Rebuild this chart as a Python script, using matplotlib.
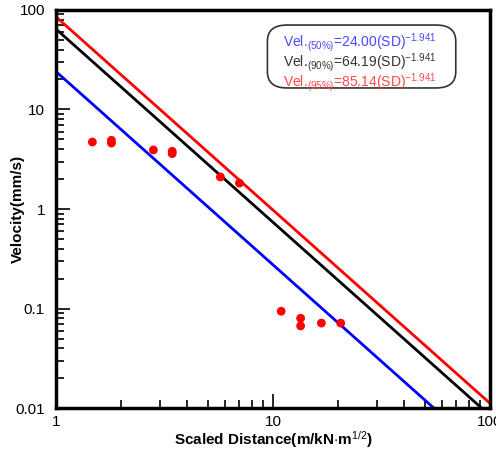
import numpy as np
import matplotlib.pyplot as plt
from matplotlib.patches import FancyBboxPatch

plt.rcParams['font.family'] = ['Liberation Sans', 'DejaVu Sans']
plt.rcParams['mathtext.fontset'] = 'custom'
plt.rcParams['mathtext.rm'] = 'Liberation Sans'
plt.rcParams['mathtext.bf'] = 'Liberation Sans:bold'
plt.rcParams['mathtext.default'] = 'rm'

# measured points
sd = [1.47, 1.80, 1.80, 2.81, 3.43, 3.43, 5.72, 7.0, 10.9, 13.4, 13.4, 16.7, 20.5]
vel = [4.71, 4.9, 4.6, 3.92, 3.8, 3.6, 2.10, 1.82, 0.094, 0.080, 0.067, 0.0715, 0.0715]

# regression lines  V = k * SD^b
coef = [24.00, 64.19, 85.14]
expo = -1.941
labels = ['50%', '90%', '95%']
line_colors = ['blue', 'black', 'red']
text_colors = ['#4848ff', '#333333', '#ff4848']

fig = plt.figure(figsize=(4.96, 4.5), dpi=100)
ax = fig.add_axes([0.113, 0.093, 0.875, 0.885])

xs = np.logspace(0, 2, 200)
for k, c in zip(coef, line_colors):
    ax.plot(xs, k * xs ** expo, color=c, lw=2, zorder=2)

ax.scatter(sd, vel, s=40, color='red', edgecolors='none', zorder=3)

ax.set_xscale('log')
ax.set_yscale('log')
ax.set_xlim(1, 100)
ax.set_ylim(0.01, 100)

ax.set_xticks([1, 10, 100])
ax.set_xticklabels(['1', '10', '100'])
ax.set_yticks([0.01, 0.1, 1, 10, 100])
ax.set_yticklabels(['0.01', '0.1', '1', '10', '100'])

for s in ax.spines.values():
    s.set_linewidth(2.5)
ax.tick_params(which='major', direction='in', length=10, width=1.2, labelsize=11, pad=5)
ax.tick_params(axis='y', which='major', pad=8)
ax.tick_params(which='minor', direction='in', length=6, width=1.2)

ax.set_xlabel('Scaled Distance(m/kN$\\cdot$m$^{1/2}$)', fontsize=11, fontweight='bold', labelpad=0)
ax.set_ylabel('Velocity(mm/s)', fontsize=11, fontweight='bold', va='center')
ax.yaxis.set_label_coords(-0.088, 0.5)

box = FancyBboxPatch((0.487, 0.804), 0.434, 0.158, boxstyle='round,pad=0.0,rounding_size=0.045',
                     transform=ax.transAxes, fc='white', ec='#333333', lw=1.2, zorder=4,
                     mutation_aspect=0.9)
ax.add_patch(box)
for i, (k, lab, tc) in enumerate(zip(coef, labels, text_colors)):
    ax.text(0.524, 0.918 - i * 0.05,
            'Vel.$_{(' + lab.replace('%', '\\%') + ')}$=' + f'{k:.2f}(SD)$^{{{expo}}}$',
            transform=ax.transAxes, color=tc, fontsize=10, va='center', zorder=5)

fig.savefig('out.png', dpi=100)
